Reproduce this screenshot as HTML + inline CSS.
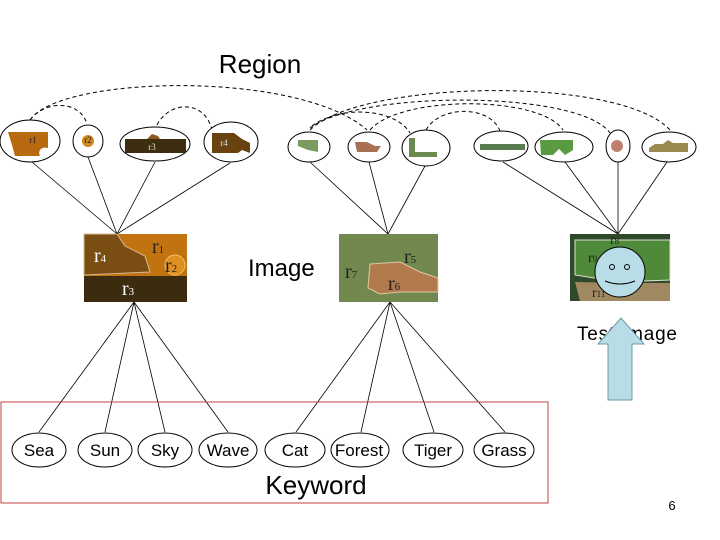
<!DOCTYPE html>
<html><head><meta charset="utf-8"><style>
html,body{margin:0;padding:0;background:#fff}
svg{display:block}
text{font-family:"Liberation Sans",sans-serif}
.s text,text.s{font-family:"Liberation Serif",serif}
</style></head><body>
<svg width="720" height="540" viewBox="0 0 720 540" xmlns="http://www.w3.org/2000/svg">
<text x="260" y="73" font-size="26" text-anchor="middle">Region</text>
<g fill="none" stroke="#000" stroke-width="1" stroke-dasharray="4,3">
<path d="M30,120 C60,75 300,70 367,130"/>
<path d="M30,120 C45,100 80,100 87,124"/>
<path d="M157,125 C170,100 205,100 212,130"/>
<path d="M310,130 C360,80 620,75 670,130"/>
<path d="M310,128 C360,90 580,90 610,133"/>
<path d="M370,130 C400,95 540,95 563,130"/>
<path d="M312,126 C340,105 395,108 410,133"/>
<path d="M426,130 C440,105 490,105 500,131"/>
</g>
<g stroke="#000" stroke-width="0.8">
<line x1="32" y1="162" x2="117" y2="234"/><line x1="88" y1="157" x2="117" y2="234"/>
<line x1="155" y1="162" x2="117" y2="234"/><line x1="230" y1="163" x2="117" y2="234"/>
<line x1="310" y1="162" x2="388" y2="234"/><line x1="369" y1="162" x2="388" y2="234"/>
<line x1="425" y1="166" x2="388" y2="234"/>
<line x1="503" y1="162" x2="618" y2="234"/><line x1="565" y1="162" x2="618" y2="234"/>
<line x1="618" y1="162" x2="618" y2="234"/><line x1="667" y1="162" x2="618" y2="234"/>
<line x1="134" y1="302" x2="39" y2="432"/><line x1="134" y1="302" x2="105" y2="432"/>
<line x1="134" y1="302" x2="165" y2="432"/><line x1="134" y1="302" x2="228" y2="432"/>
<line x1="390" y1="302" x2="296" y2="432"/><line x1="390" y1="302" x2="361" y2="432"/>
<line x1="390" y1="302" x2="434" y2="432"/><line x1="390" y1="302" x2="505" y2="432"/>
</g>
<g fill="#fff" stroke="#000" stroke-width="1">
<ellipse cx="30" cy="141" rx="30" ry="21"/><ellipse cx="88" cy="141" rx="15" ry="16"/>
<ellipse cx="155" cy="144" rx="35" ry="17"/><ellipse cx="231" cy="142" rx="27" ry="20"/>
<ellipse cx="309" cy="147" rx="21" ry="15"/><ellipse cx="369" cy="147" rx="21" ry="15"/>
<ellipse cx="426" cy="148" rx="24" ry="18"/><ellipse cx="501" cy="146" rx="27" ry="15"/>
<ellipse cx="564" cy="147" rx="29" ry="15"/><ellipse cx="618" cy="146" rx="12" ry="16"/>
<ellipse cx="669" cy="147" rx="27" ry="15"/>
</g>
<path d="M8,132 H48 V148 C40,146 38,152 40,156 H15 L12,145 Z" fill="#b86a10"/>
<circle cx="88" cy="141" r="6" fill="#d08a20"/>
<rect x="125" y="139" width="61" height="14" fill="#3e2e10"/><path d="M147,139 l5,-5 l6,2 l2,3z" fill="#8a5a20"/>
<path d="M212,133 h22 l8,6 l8,4 l0,10 l-8,-3 l-4,3 h-26z" fill="#6a4210"/>
<path d="M298,140 h20 v12 l-10,-2 l-10,-4z" fill="#7a9a60"/>
<path d="M355,142 h12 l8,4 h6 l-4,6 h-20z" fill="#a87050"/>
<path d="M409,138 h6 v14 h22 v5 h-28z" fill="#6a8a50"/>
<rect x="480" y="144" width="45" height="6" fill="#5a7a50"/>
<path d="M540,140 h33 v10 l-8,5 l-6,-6 l-6,6 h-12z" fill="#5a9a40"/>
<circle cx="617" cy="146" r="6" fill="#c08070"/>
<path d="M649,148 l6,-4 l8,0 l5,-4 l5,3 h15 v9 h-39z" fill="#9a8a50"/>
<g class="s" font-size="9" text-anchor="middle" fill="#222">
<text x="33" y="143">r1</text><text x="88" y="143">r2</text><text x="152" y="150" fill="#ddd">r3</text><text x="224" y="146" fill="#ddd">r4</text>
</g>
<rect x="84" y="234" width="103" height="68" fill="#c0730f"/>
<path d="M84,234 H117 L125,246 L145,256 L150,272 L84,275 Z" fill="#7a4d12" stroke="#d8b890" stroke-width="1"/>
<circle cx="175" cy="265" r="10" fill="#e0901f" stroke="#f0c070"/>
<rect x="84" y="276" width="103" height="26" fill="#3b2c10"/>
<g class="s" fill="#fff" font-size="20"><text x="94" y="262">r<tspan font-size="11">4</tspan></text><text x="122" y="295">r<tspan font-size="11">3</tspan></text></g>
<g class="s" fill="#222" font-size="20"><text x="152" y="253">r<tspan font-size="11">1</tspan></text><text x="165" y="272">r<tspan font-size="11">2</tspan></text></g>
<text x="248" y="276" font-size="24">Image</text>
<rect x="339" y="234" width="99" height="68" fill="#71894f"/>
<path d="M370,264 L400,262 L420,272 L438,278 L438,292 L400,292 L380,294 L368,288 Z" fill="#b27a4c" stroke="#e0c8a0"/>
<g class="s" fill="#222" font-size="20"><text x="345" y="278">r<tspan font-size="11">7</tspan></text><text x="404" y="263">r<tspan font-size="11">5</tspan></text><text x="388" y="290">r<tspan font-size="11">6</tspan></text></g>
<rect x="570" y="234" width="100" height="67" fill="#2f4a2a"/>
<path d="M575,240 H670 V280 L620,282 L575,275 Z" fill="#4f8a3a" stroke="#e0e0d0"/>
<path d="M575,282 L620,283 L670,283 V301 H580 Z" fill="#a08860"/>
<g class="s" fill="#222" font-size="14"><text x="610" y="244">r<tspan font-size="9">8</tspan></text><text x="588" y="262">r<tspan font-size="9">9</tspan></text><text x="592" y="297">r<tspan font-size="9">11</tspan></text></g>
<circle cx="620" cy="272" r="25" fill="#b8dde6" stroke="#000"/>
<circle cx="612" cy="267" r="2.5" fill="none" stroke="#000"/><circle cx="627" cy="267" r="2.5" fill="none" stroke="#000"/>
<path d="M605,281 Q620,287 635,281" fill="none" stroke="#000"/>
<text x="577" y="340" font-size="19" textLength="100">Test Image</text>
<path d="M608,400 V344 H598 L621,318 L644,344 H632 V400 Z" fill="#b8dde6" stroke="#6a9aa8"/>
<rect x="1" y="402" width="547" height="101" fill="none" stroke="#c04040" stroke-width="1"/>
<g fill="#fff" stroke="#000">
<ellipse cx="39" cy="450" rx="27" ry="17"/><ellipse cx="105" cy="450" rx="27" ry="17"/>
<ellipse cx="165" cy="450" rx="27" ry="17"/><ellipse cx="228" cy="450" rx="29" ry="17"/>
<ellipse cx="295" cy="450" rx="30" ry="17"/><ellipse cx="360" cy="450" rx="29" ry="17"/>
<ellipse cx="433" cy="450" rx="30" ry="17"/><ellipse cx="504" cy="450" rx="30" ry="17"/>
</g>
<g font-size="17" text-anchor="middle">
<text x="39" y="456">Sea</text><text x="105" y="456">Sun</text><text x="165" y="456">Sky</text><text x="228" y="456">Wave</text>
<text x="295" y="456">Cat</text><text x="359" y="456">Forest</text><text x="433" y="456">Tiger</text><text x="504" y="456">Grass</text>
</g>
<text x="316" y="494" font-size="26" text-anchor="middle">Keyword</text>
<text x="672" y="510" font-size="13" text-anchor="middle">6</text>
</svg>
</body></html>
